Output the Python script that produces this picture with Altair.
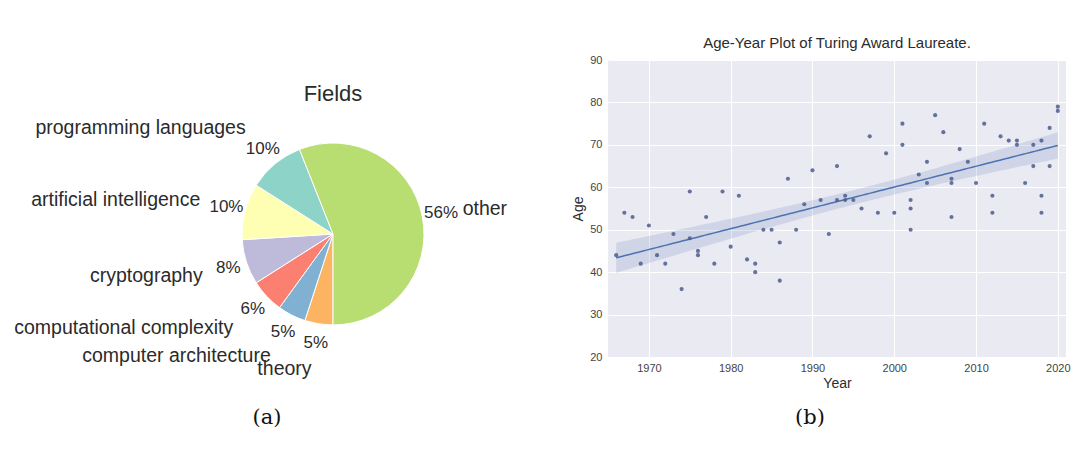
import altair as alt
import numpy as np
import pandas as pd

# ---------------- Pie data ----------------
fields = ["theory", "computer architecture", "computational complexity",
          "cryptography", "artificial intelligence", "programming languages", "other"]
pcts = [5, 5, 6, 8, 10, 10, 56]
field_colors = ["#fdb462", "#80b1d3", "#fb8072", "#bebada", "#ffffb3", "#8dd3c7", "#b8de72"]

# ---------------- Scatter data ----------------
years = [1966, 1967, 1968, 1969, 1970, 1971, 1972, 1973, 1974, 1975, 1975, 1976, 1976, 1977,
         1978, 1979, 1980, 1981, 1982, 1983, 1983, 1984, 1985, 1986, 1986, 1987, 1988, 1989,
         1990, 1991, 1992, 1993, 1993, 1994, 1994, 1995, 1996, 1997, 1998, 1999, 2000, 2001,
         2001, 2002, 2002, 2002, 2003, 2004, 2004, 2005, 2006, 2007, 2007, 2007, 2008, 2009,
         2010, 2011, 2012, 2012, 2013, 2014, 2015, 2015, 2016, 2017, 2017, 2018, 2018, 2018,
         2019, 2019, 2020, 2020]
ages = [44, 54, 53, 42, 51, 44, 42, 49, 36, 59, 48, 45, 44, 53,
        42, 59, 46, 58, 43, 42, 40, 50, 50, 47, 38, 62, 50, 56,
        64, 57, 49, 65, 57, 58, 57, 57, 55, 72, 54, 68, 54, 75,
        70, 57, 55, 50, 63, 66, 61, 77, 73, 62, 61, 53, 69, 66,
        61, 75, 58, 54, 72, 71, 71, 70, 61, 70, 65, 71, 58, 54,
        74, 65, 79, 78]
x_ticks = [1970, 1980, 1990, 2000, 2010, 2020]
y_ticks = [20, 30, 40, 50, 60, 70, 80, 90]

FONT = "Liberation Sans"
TXT = "#2b2b2b"

# ---------------- Pie chart ----------------
pie_df = pd.DataFrame({"field": fields, "pct": pcts, "idx": list(range(len(fields)))})
pie_df["pct_label"] = pie_df["pct"].astype(str) + "%"

theta_scale = alt.Scale(domain=[0, 100], range=[np.pi, 3 * np.pi])
CX, CY = 325, 174
R = 91

base = alt.Chart(pie_df)

arcs = base.mark_arc(outerRadius=R, stroke="white", strokeWidth=1).encode(
    theta=alt.Theta("pct:Q", stack=True, scale=theta_scale),
    order=alt.Order("idx:Q"),
    color=alt.Color("field:N", scale=alt.Scale(domain=fields, range=field_colors), legend=None),
    x=alt.value(CX), y=alt.value(CY),
)

mid_base = base.transform_window(
    cum="sum(pct)", sort=[alt.SortField("idx")]
).transform_calculate(mid="datum.cum - datum.pct / 2")

pct_text = mid_base.mark_text(radius=110, font=FONT, fontSize=17, color=TXT,
                              align="center", baseline="middle").encode(
    theta=alt.Theta("mid:Q", stack=None, scale=theta_scale),
    text="pct_label:N",
    x=alt.value(CX), y=alt.value(CY),
)

label_left = mid_base.transform_filter("datum.field != 'other'").mark_text(
    radius=137, font=FONT, fontSize=19.5, color=TXT, align="right", baseline="middle").encode(
    theta=alt.Theta("mid:Q", stack=None, scale=theta_scale),
    text="field:N",
    x=alt.value(CX), y=alt.value(CY),
)

label_right = mid_base.transform_filter("datum.field == 'other'").mark_text(
    radius=132, font=FONT, fontSize=19.5, color=TXT, align="left", baseline="middle").encode(
    theta=alt.Theta("mid:Q", stack=None, scale=theta_scale),
    text="field:N",
    x=alt.value(CX), y=alt.value(CY),
)

fields_title = alt.Chart(pd.DataFrame({"t": ["Fields"]})).mark_text(
    font=FONT, fontSize=22, color=TXT, align="center", baseline="middle").encode(
    text="t:N", x=alt.value(CX), y=alt.value(CY - 140))

cap_a = alt.Chart(pd.DataFrame({"t": ["(a)"]})).mark_text(
    font="DejaVu Serif", fontSize=21, color="#111111", align="center", baseline="middle").encode(
    text="t:N", x=alt.value(259), y=alt.value(358))

pie = alt.layer(arcs, pct_text, label_left, label_right, fields_title, cap_a).properties(
    width=560, height=370)

# ---------------- Scatter with regression ----------------
xa = np.array(years, dtype=float)
ya = np.array(ages, dtype=float)
n = len(xa)
slope, intercept = np.polyfit(xa, ya, 1)
grid = np.linspace(xa.min(), xa.max(), 100)
pred = intercept + slope * grid
resid = ya - (intercept + slope * xa)
s = np.sqrt(np.sum(resid ** 2) / (n - 2))
sxx = np.sum((xa - xa.mean()) ** 2)
se = s * np.sqrt(1.0 / n + (grid - xa.mean()) ** 2 / sxx)
tval = 1.993
fit_df = pd.DataFrame({"Year": grid, "fit": pred, "lo": pred - tval * se, "hi": pred + tval * se})
pts_df = pd.DataFrame({"Year": years, "Age": ages})

x_scale = alt.Scale(domain=[1965, 2021], nice=False, zero=False)
y_scale = alt.Scale(domain=[20, 90], nice=False, zero=False)

x_axis = alt.Axis(values=x_ticks, format="d", title="Year", labelFontSize=11, labelColor="#444444",
                  titleFontSize=14, titleFontWeight="normal", titleColor=TXT, labelFont=FONT,
                  titleFont=FONT, domain=False, ticks=False, gridColor="white", gridWidth=1,
                  labelPadding=5, titlePadding=3)
y_axis = alt.Axis(values=y_ticks, title="Age", labelFontSize=11, labelColor="#444444",
                  titleFontSize=14, titleFontWeight="normal", titleColor=TXT, labelFont=FONT,
                  titleFont=FONT, domain=False, ticks=False, gridColor="white", gridWidth=1,
                  labelPadding=6, titlePadding=4)

band = alt.Chart(fit_df).mark_area(color="#4C72B0", opacity=0.17).encode(
    x=alt.X("Year:Q", scale=x_scale, axis=x_axis),
    y=alt.Y("lo:Q", scale=y_scale, axis=y_axis),
    y2="hi:Q",
)
line = alt.Chart(fit_df).mark_line(color="#4C72B0", strokeWidth=1.5).encode(
    x=alt.X("Year:Q", scale=x_scale),
    y=alt.Y("fit:Q", scale=y_scale),
)
points = alt.Chart(pts_df).mark_circle(color="#4a5d8c", opacity=0.85, size=17).encode(
    x=alt.X("Year:Q", scale=x_scale),
    y=alt.Y("Age:Q", scale=y_scale),
)
cap_b = alt.Chart(pd.DataFrame({"t": ["(b)"]})).mark_text(
    font="DejaVu Serif", fontSize=21, color="#111111", align="center", baseline="middle").encode(
    text="t:N", x=alt.value(202), y=alt.value(358))

scatter = alt.layer(band, line, points, cap_b).properties(
    width=458, height=297,
    title=alt.Title("Age-Year Plot of Turing Award Laureate.", font=FONT, fontSize=15,
                    fontWeight="normal", color=TXT, anchor="middle", offset=3),
    view=alt.ViewBackground(fill="#EAEAF2", strokeWidth=0),
)

chart = alt.HConcatChart(hconcat=[pie, scatter], spacing=40, bounds="flush").configure_view(
    strokeWidth=0
).properties(
    padding={"left": 0, "top": 28, "right": 0, "bottom": 0},
    background="white",
)

chart.save("out.html", embed_options={"renderer": "svg", "actions": False})
